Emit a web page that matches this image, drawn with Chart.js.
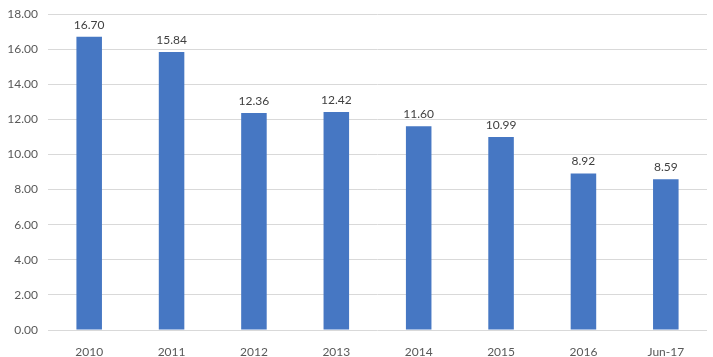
<!DOCTYPE html>
<html><head><meta charset="utf-8">
<script src="https://cdn.jsdelivr.net/npm/chart.js@4/dist/chart.umd.min.js"></script>
<style>html,body{margin:0;padding:0;background:#fff}#wrap{width:713px;height:357px}</style>
</head><body><div id="wrap"><canvas id="c" width="713" height="357"></canvas></div>
<script>
const categories = ["2010","2011","2012","2013","2014","2015","2016","Jun-17"];
const values = [16.70,15.84,12.36,12.42,11.60,10.99,8.92,8.59];
const yTicks = [0,2,4,6,8,10,12,14,16,18];

const labelPlugin = {
  id:'vlabels',
  afterDatasetsDraw(chart){
    const ctx = chart.ctx;
    const meta = chart.getDatasetMeta(0);
    ctx.save();
    ctx.font = '12px Lato, "Open Sans", sans-serif';
    ctx.fillStyle = '#404040';
    ctx.textAlign = 'center';
    ctx.textBaseline = 'bottom';
    meta.data.forEach((bar,i)=>{
      ctx.fillText(values[i].toFixed(2), bar.x, bar.y - 6);
    });
    ctx.restore();
  }
};

new Chart(document.getElementById('c'), {
  type:'bar',
  data:{labels:categories, datasets:[{data:values, backgroundColor:'#4677c3', barPercentage:0.31, categoryPercentage:1}]},
  options:{
    responsive:false, animation:false,
    layout:{padding:{left:0,right:6,top:14,bottom:0}},
    plugins:{legend:{display:false},tooltip:{enabled:false}},
    scales:{
      x:{
        grid:{display:false},
        border:{display:false},
        ticks:{color:'#595959', font:{family:'Lato, "Open Sans", sans-serif', size:12}, padding:7, maxRotation:0},
        afterFit(s){s.height=27;}
      },
      y:{
        min:0,max:18,
        afterBuildTicks(s){s.ticks = yTicks.map(v=>({value:v}));},
        grid:{color:'#d9d9d9', drawTicks:false},
        border:{display:false},
        ticks:{color:'#595959', font:{family:'Lato, "Open Sans", sans-serif', size:12, lineHeight:0.5}, padding:10, callback:v=>Number(v).toFixed(2)},
        afterFit(s){s.width=48; s.paddingTop=0; s.paddingBottom=0;}
      }
    }
  },
  plugins:[labelPlugin]
});
</script>
</body></html>
